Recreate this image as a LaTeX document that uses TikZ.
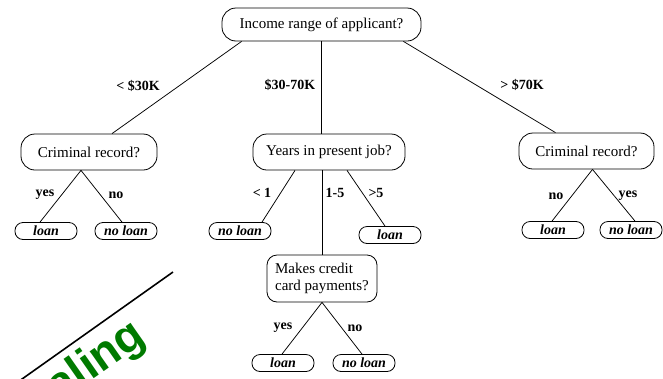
\documentclass[tikz,border=0pt]{standalone}
\usepackage{fontspec}
\setmainfont{Liberation Serif}
\newfontfamily\bannerfont{Liberation Sans}
\usetikzlibrary{calc}
\definecolor{bannergreen}{RGB}{0,122,0}
\begin{document}
\begin{tikzpicture}[x=1pt,y=-1pt,
  question/.style={draw, line width=0.8pt, rounded corners=14pt,
    font=\fontsize{15}{17}\selectfont, inner xsep=2pt, inner ysep=2pt,
    minimum height=36pt, align=left},
  leaf/.style={draw, line width=0.8pt, rounded corners=8pt,
    minimum height=17pt, minimum width=62pt, inner sep=1pt,
    font=\fontsize{14}{14}\selectfont\bfseries\itshape},
  branch/.style={line width=0.75pt},
  cond/.style={font=\fontsize{14}{14}\selectfont\bfseries, inner sep=0pt}]
\useasboundingbox (0,0) rectangle (663,378);

% decision nodes
\node[question, minimum width=199pt, minimum height=33pt] (root) at (321.5,24.5) {Income range of applicant?};
\node[question, minimum width=136pt] (lc) at (89,152) {Criminal record?};
\node[question, minimum width=152pt] (yj) at (329,152) {Years in present job?};
\node[question, minimum width=135pt] (rc) at (586.5,151) {Criminal record?};
\node[question, minimum width=110pt, minimum height=47pt, rounded corners=10pt, inner xsep=6pt] (mk) at (322,278.5) {Makes credit\\card payments?};

% outcomes
\node[leaf] (l1) at (46,231) {loan};
\node[leaf] (n1) at (126,231) {no loan};
\node[leaf] (n2) at (240,231) {no loan};
\node[leaf] (l2) at (390,235) {loan};
\node[leaf] (l3) at (553,230) {loan};
\node[leaf] (n3) at (631,230) {no loan};
\node[leaf] (l4) at (283,363) {loan};
\node[leaf] (n4) at (364,363) {no loan};

% branches from the root
\draw[branch] ([xshift=20pt]root.south west) -- ([xshift=23pt]lc.north);
\draw[branch] (root.south) -- (root.south |- yj.north);
\draw[branch] ([xshift=-18pt]root.south east) -- ([xshift=-31pt]rc.north);

% branches under the left criminal-record test
\draw[branch] ([xshift=-8pt]lc.south) -- ([xshift=-6pt]l1.north);
\draw[branch] ([xshift=-8pt]lc.south) -- ([xshift=-4pt]n1.north);

% branches under years in present job
\draw[branch] ([xshift=-34pt]yj.south) -- ([xshift=22pt]n2.north);
\draw[branch] (mk.north |- yj.south) -- (mk.north);
\draw[branch] ([xshift=18pt]yj.south) -- ([xshift=-5pt]l2.north);

% branches under the right criminal-record test
\draw[branch] ([xshift=6pt]rc.south) -- ([xshift=-1pt]l3.north);
\draw[branch] ([xshift=6pt]rc.south) -- ([xshift=4pt]n3.north);

% branches under credit card payments
\draw[branch] (mk.south) -- ([xshift=-1pt]l4.north);
\draw[branch] (mk.south) -- ([xshift=-2pt]n4.north);

% branch conditions
\node[cond] (c1) at (138,86) {< \$30K};
\node[cond] (c2) at (290,85) {\$30-70K};
\node[cond] (c3) at (522,85) {> \$70K};
\node[cond] (c4) at (45,195) {yes};
\node[cond] (c5) at (116,195) {no};
\node[cond] (c6) at (262,193) {< 1};
\node[cond] (c7) at (335,193) {1-5};
\node[cond] (c8) at (376,193) {>5};
\node[cond] (c9) at (556,196) {no};
\node[cond] (c10) at (628,196) {yes};
\node[cond] (c11) at (283,328) {yes};
\node[cond] (c12) at (355,328) {no};

% corner banner, running off the lower left edge
\begin{scope}
\clip (0,0) rectangle (663,378);
\coordinate (bannerA) at (173,272);
\coordinate (bannerB) at (15,384);
\draw[line width=1.6pt] (bannerA) -- (bannerB);
\node[rotate=35, anchor=base east, text=bannergreen, inner sep=0pt,
  font=\bannerfont\bfseries\fontsize{46}{46}\selectfont] (banner) at (148,341) {Scaling};
\end{scope}
\end{tikzpicture}
\end{document}
